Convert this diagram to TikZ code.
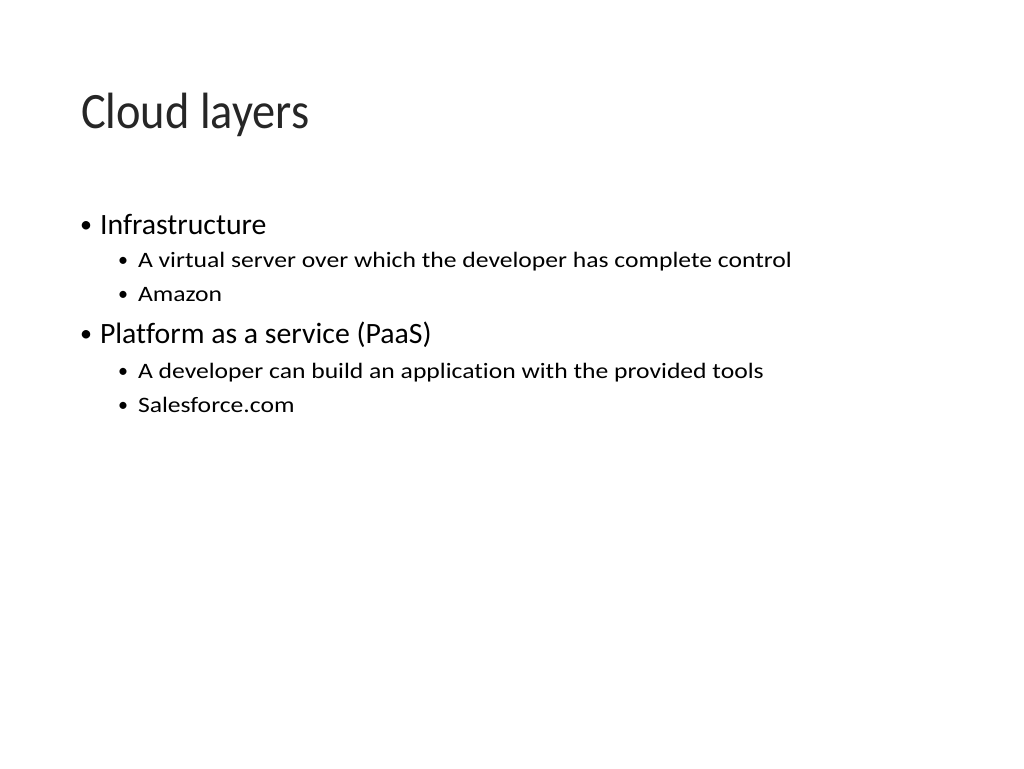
\documentclass[tikz,border=0pt]{standalone}
\usepackage{fontspec}
\setmainfont{Carlito}[Ligatures=NoCommon]
\newfontfamily\titlefont{Carlito}[FakeStretch=0.91,Ligatures=NoCommon]
\newfontfamily\onefont{Carlito}[FakeStretch=1.01,Ligatures=NoCommon]
\newfontfamily\twofont{Carlito}[FakeStretch=1.165,Ligatures=NoCommon]
\begin{document}
\begin{tikzpicture}[x=1pt,y=-1pt,
    every node/.style={anchor=base west,inner sep=0pt,outer sep=0pt},
    title/.style={font=\titlefont\fontsize{51}{60}\selectfont,text=black!85},
    levelone/.style={font=\onefont\fontsize{29.5}{34}\selectfont},
    leveltwo/.style={font=\twofont\fontsize{22}{27}\selectfont},
    dotone/.style={font=\fontsize{24}{28}\selectfont,anchor=base,yshift=1.5pt},
    dottwo/.style={font=\fontsize{20}{24}\selectfont,anchor=base,yshift=0.5pt}]
  \useasboundingbox (0,0) rectangle (1024,768);
  \draw
    (81,128) node[title] (title){Cloud layers}
    (86,234) node[dotone] (b1){\textbullet}
    (100,234) node[levelone] (infra){Infrastructure}
    (123,267) node[dottwo] (b11){\textbullet}
    (138,267) node[leveltwo] (server){A virtual server over which the developer has complete control}
    (123,301) node[dottwo] (b12){\textbullet}
    (138,301) node[leveltwo] (amazon){Amazon}
    (86,343) node[dotone] (b2){\textbullet}
    (100,343) node[levelone] (paas){Platform as a service (PaaS)}
    (123,378) node[dottwo] (b21){\textbullet}
    (138,378) node[leveltwo] (tools){A developer can build an application with the provided tools}
    (123,412) node[dottwo] (b22){\textbullet}
    (138,412) node[leveltwo] (sales){Salesforce.com};
\end{tikzpicture}
\end{document}
